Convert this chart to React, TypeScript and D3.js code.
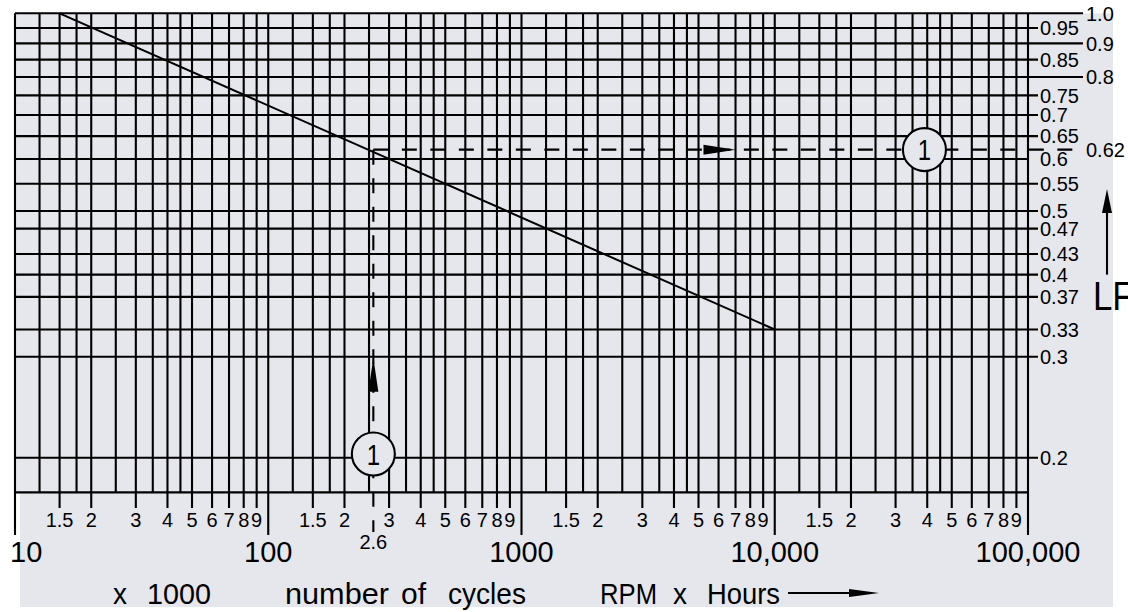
import React from "react";
import * as d3 from "d3";

// x axis: number of cycles (x 1000), log scale 10 .. 100,000
const decades = [10, 100, 1000, 10000];
const gridMultiples = [1, 1.25, 1.5, 1.75, 2, 2.5, 3, 3.5, 4, 4.5, 5, 6, 7, 8, 9];
const labeledMultiples = [1.5, 2, 3, 4, 5, 6, 7, 8, 9];
const multipleLabels = ["1.5", "2", "3", "4", "5", "6", "7", "8", "9"];
const majorTicks = [10, 100, 1000, 10000, 100000];
const majorLabels = ["10", "100", "1000", "10,000", "100,000"];

// y axis: load factor LF
const lfTicks = [1.0, 0.95, 0.9, 0.85, 0.8, 0.75, 0.7, 0.65, 0.6, 0.55, 0.5, 0.47, 0.43, 0.4, 0.37, 0.33, 0.3, 0.2];
const lfLabels = ["1.0", "0.95", "0.9", "0.85", "0.8", "0.75", "0.7", "0.65", "0.6", "0.55", "0.5", "0.47", "0.43", "0.4", "0.37", "0.33", "0.3", "0.2"];
const lfOuter = [1.0, 0.9, 0.8];
const lfNoTick = [0.6];
const lfMin = 0.174;

// life line: LF against cycles
const lifeLine: [number, number][] = [[15, 1.0], [10000, 0.33]];

// worked example
const exampleCycles = 260;
const exampleCyclesLabel = "2.6";
const exampleLF = 0.62;
const exampleLFLabel = "0.62";
const bottomMarker = { n: 260, lf: 0.203, label: "1" };
const rightMarker = { n: 39000, lf: 0.62, label: "1" };
const upArrowLF = 0.3;
const rightArrowCycles = 7000;
const lfArrow = [0.4, 0.54];

// axis title words
const titleWords = ["x", "1000", "number", "of", "cycles", "RPM", "x", "Hours"];

export default function App() {
  const W = 1128, H = 612;
  const left = 15, right = 1028, top = 13.3;
  const x = d3.scaleLog().domain([10, 100000]).range([left, right]);
  const y = d3.scaleLog().domain([1, 0.3, 0.2]).range([top, 356.7, 457.7]);
  const bottom = y(lfMin);
  const font = "'Liberation Sans', Arial, Helvetica, sans-serif";
  const bg = "#e6e7ec";
  const sw = 2.1;

  const gridX = decades.flatMap((d) => gridMultiples.map((m) => d * m)).concat([100000]);
  const labeled = decades.flatMap((d) =>
    labeledMultiples.map((m, i) => ({ v: d * m, label: multipleLabels[i] }))
  );
  const isMajor = (v: number) => majorTicks.some((t) => Math.abs(t - v) < 1e-6);
  const isLabeled = (v: number) => labeled.some((t) => Math.abs(t.v - v) < 1e-6);

  const line = d3.line<[number, number]>().x((d) => x(d[0])).y((d) => y(d[1]));

  const ex = x(exampleCycles);
  const ey = y(exampleLF);
  const dash = "15 13.5";

  const tipUp = y(upArrowLF) + 1;
  const tipRight = x(rightArrowCycles);

  // word placement along the bottom title (start x, width)
  const titleBoxes = [[113, 14], [147, 64], [285, 104], [401, 25], [448, 78], [600, 57], [673, 14], [707, 73]];

  return (
    <svg width={W} height={H} style={{ position: "absolute", left: 0, top: 0, background: "#fff" }}>
      <rect x={20} y={top} width={1113 - 20} height={607 - top} fill={bg} />
      <rect x={left} y={top} width={right - left} height={bottom - top} fill={bg} />

      {/* vertical grid */}
      {gridX.map((v, i) => {
        const y2 = isMajor(v) ? 535 : isLabeled(v) ? 508 : bottom;
        return <line key={"vx" + i} x1={x(v)} x2={x(v)} y1={top} y2={y2} stroke="#000" strokeWidth={sw} />;
      })}

      {/* horizontal grid */}
      {lfTicks.map((v, i) => {
        const outer = lfOuter.includes(v);
        const x2 = lfNoTick.includes(v) ? right : outer ? 1083 : 1038;
        return <line key={"hy" + i} x1={left} x2={x2} y1={y(v)} y2={y(v)} stroke="#000" strokeWidth={sw} />;
      })}
      <line x1={left} x2={right} y1={bottom} y2={bottom} stroke="#000" strokeWidth={sw} />

      {/* y labels */}
      {lfTicks.map((v, i) => (
        <text key={"yl" + i} x={lfOuter.includes(v) ? 1086 : 1040} y={y(v)} dy="0.36em"
          fontFamily={font} fontSize={20} fill="#000">{lfLabels[i]}</text>
      ))}

      {/* x labels */}
      {labeled.map((t, i) => (
        <text key={"xl" + i} x={x(t.v)} y={527} textAnchor="middle" fontFamily={font} fontSize={20} fill="#000">{t.label}</text>
      ))}
      {majorTicks.map((v, i) => (
        <text key={"mj" + i} x={i === 0 ? x(v) - 5 : x(v)} y={562} textAnchor={i === 0 ? "start" : "middle"}
          fontFamily={font} fontSize={29} fill="#000">{majorLabels[i]}</text>
      ))}

      {/* life line */}
      <path d={line(lifeLine) || ""} fill="none" stroke="#000" strokeWidth={2} />

      {/* example: dashed reading lines */}
      <line x1={ex} x2={ex} y1={ey} y2={532} stroke="#000" strokeWidth={sw} strokeDasharray={dash} />
      <line x1={ex} x2={1083} y1={ey} y2={ey} stroke="#000" strokeWidth={sw} strokeDasharray={dash} />
      <text x={ex} y={549} textAnchor="middle" fontFamily={font} fontSize={20} fill="#000">{exampleCyclesLabel}</text>
      <text x={1086} y={ey} dy="0.36em" fontFamily={font} fontSize={20} fill="#000">{exampleLFLabel}</text>

      {/* arrows */}
      <path d={`M${ex},${tipUp} L${ex - 5},${tipUp + 34} L${ex + 5},${tipUp + 34} Z`} fill="#000" />
      <path d={`M${tipRight},${ey} L${tipRight - 32},${ey - 5} L${tipRight - 32},${ey + 5} Z`} fill="#000" />
      <line x1={1107} x2={1107} y1={y(lfArrow[0])} y2={y(lfArrow[1]) + 20} stroke="#000" strokeWidth={sw} />
      <path d={`M1107,${y(lfArrow[1])} L1102,${y(lfArrow[1]) + 24} L1112,${y(lfArrow[1]) + 24} Z`} fill="#000" />

      {/* markers */}
      {[bottomMarker, rightMarker].map((m, i) => (
        <g key={"mk" + i} transform={`translate(${x(m.n)},${y(m.lf)})`}>
          <circle r={21.5} fill={bg} stroke="#000" strokeWidth={sw} />
          <text y={0} dy="0.36em" textAnchor="middle" fontFamily={font} fontSize={30} fill="#000"
            transform="scale(0.8,1)">{m.label}</text>
        </g>
      ))}

      {/* LF axis title */}
      <text transform="translate(1093,310) scale(0.85,1)" fontFamily={font} fontSize={41} fill="#000">LF</text>

      {/* x axis title */}
      <g fontFamily={font} fontSize={30} fill="#000">
        {titleWords.map((w, i) => (
          <text key={"tw" + i} x={titleBoxes[i][0]} y={604} textLength={titleBoxes[i][1]}
            lengthAdjust="spacingAndGlyphs">{w}</text>
        ))}
      </g>
      <line x1={788} x2={852} y1={593} y2={593} stroke="#000" strokeWidth={sw} />
      <path d="M879,593 L849,589 L849,597 Z" fill="#000" />
    </svg>
  );
}
